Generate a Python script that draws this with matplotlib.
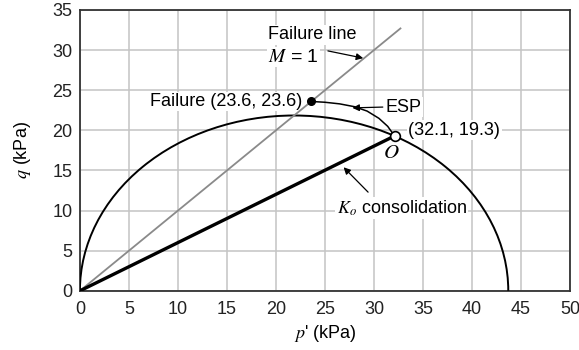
import matplotlib
matplotlib.use('Agg')
import matplotlib.pyplot as plt
from matplotlib.patches import Arc

plt.rcParams['font.family'] = ['Liberation Sans', 'DejaVu Sans']
plt.rcParams['mathtext.fontset'] = 'stix'

# yield surface (ellipse through origin)
p0 = 43.7          # intercept on p' axis
q_top = 21.85      # height of the ellipse

# failure line M = 1
fail_p = [0, 32.7]
fail_q = [0, 32.7]

# Ko consolidation path
ko_p = [0, 32.1]
ko_q = [0, 19.3]

# effective stress path (ESP) from O to failure
esp_p = [32.1, 31.4, 30.5, 29.3, 28.0, 26.5, 25.0, 23.6]
esp_q = [19.3, 20.5, 21.5, 22.4, 22.95, 23.3, 23.5, 23.6]

fs = 13

fig = plt.figure(figsize=(5.79, 3.5), dpi=100)
ax = fig.add_axes([0.138, 0.169, 0.8465, 0.8025])

ax.set_xlim(0, 50)
ax.set_ylim(0, 35)
ax.set_xticks(range(0, 51, 5))
ax.set_yticks(range(0, 36, 5))
ax.grid(True, color='#c4c4c4', lw=1.1, zorder=0)
ax.set_axisbelow(True)
ax.tick_params(length=0, labelsize=fs, colors='#222222')
ax.tick_params(axis='x', pad=7)
ax.tick_params(axis='y', pad=5.5)
for s in ax.spines.values():
    s.set_color('#333333')
    s.set_linewidth(1.3)

ax.add_patch(Arc((p0 / 2, 0), p0, 2 * q_top, theta1=0, theta2=180,
                 color='black', lw=1.4, zorder=4))
ax.plot(fail_p, fail_q, color='#8a8a8a', lw=1.3, zorder=4)
ax.plot(ko_p, ko_q, color='black', lw=2.4, zorder=5)
ax.plot(esp_p, esp_q, color='black', lw=1.1, zorder=5)
ax.plot([esp_p[-1]], [esp_q[-1]], 'o', color='black', ms=5.5, zorder=6)
ax.plot([ko_p[-1]], [ko_q[-1]], 'o', mfc='white', mec='black', mew=1.2, ms=7, zorder=6)

box = dict(fc='white', ec='none', pad=1.0)
arr = dict(arrowstyle='-|>', color='black', lw=0.9, mutation_scale=10, shrinkA=0, shrinkB=0)

ax.text(19.2, 31.9, 'Failure line', fontsize=fs, ha='left', va='center', bbox=box, zorder=3)
ax.text(19.2, 29.1, '$M$ = 1', fontsize=fs + 1, ha='left', va='center', bbox=box, zorder=3)
ax.annotate('', xy=(28.9, 29.0), xytext=(25.3, 29.9), arrowprops=arr, zorder=7)

ax.text(22.7, 23.6, 'Failure (23.6, 23.6)', fontsize=fs, ha='right', va='center', bbox=box, zorder=3)

ax.text(31.2, 22.9, 'ESP', fontsize=fs, ha='left', va='center', bbox=box, zorder=3)
ax.annotate('', xy=(27.8, 22.8), xytext=(30.9, 22.9), arrowprops=arr, zorder=7)

ax.text(33.5, 20.0, '(32.1, 19.3)', fontsize=fs, ha='left', va='center', bbox=box, zorder=3)
ax.text(31.8, 17.2, '$O$', fontsize=fs + 2, ha='center', va='center', zorder=3)

ax.text(26.2, 10.3, '$K_o$ consolidation', fontsize=fs, ha='left', va='center', bbox=box, zorder=3)
ax.annotate('', xy=(26.9, 15.4), xytext=(29.4, 12.3), arrowprops=arr, zorder=7)

ax.set_xlabel("$p$' (kPa)", fontsize=fs, labelpad=4)
ax.set_ylabel('$q$ (kPa)', fontsize=fs, labelpad=14)

fig.savefig('out.png', dpi=100)
